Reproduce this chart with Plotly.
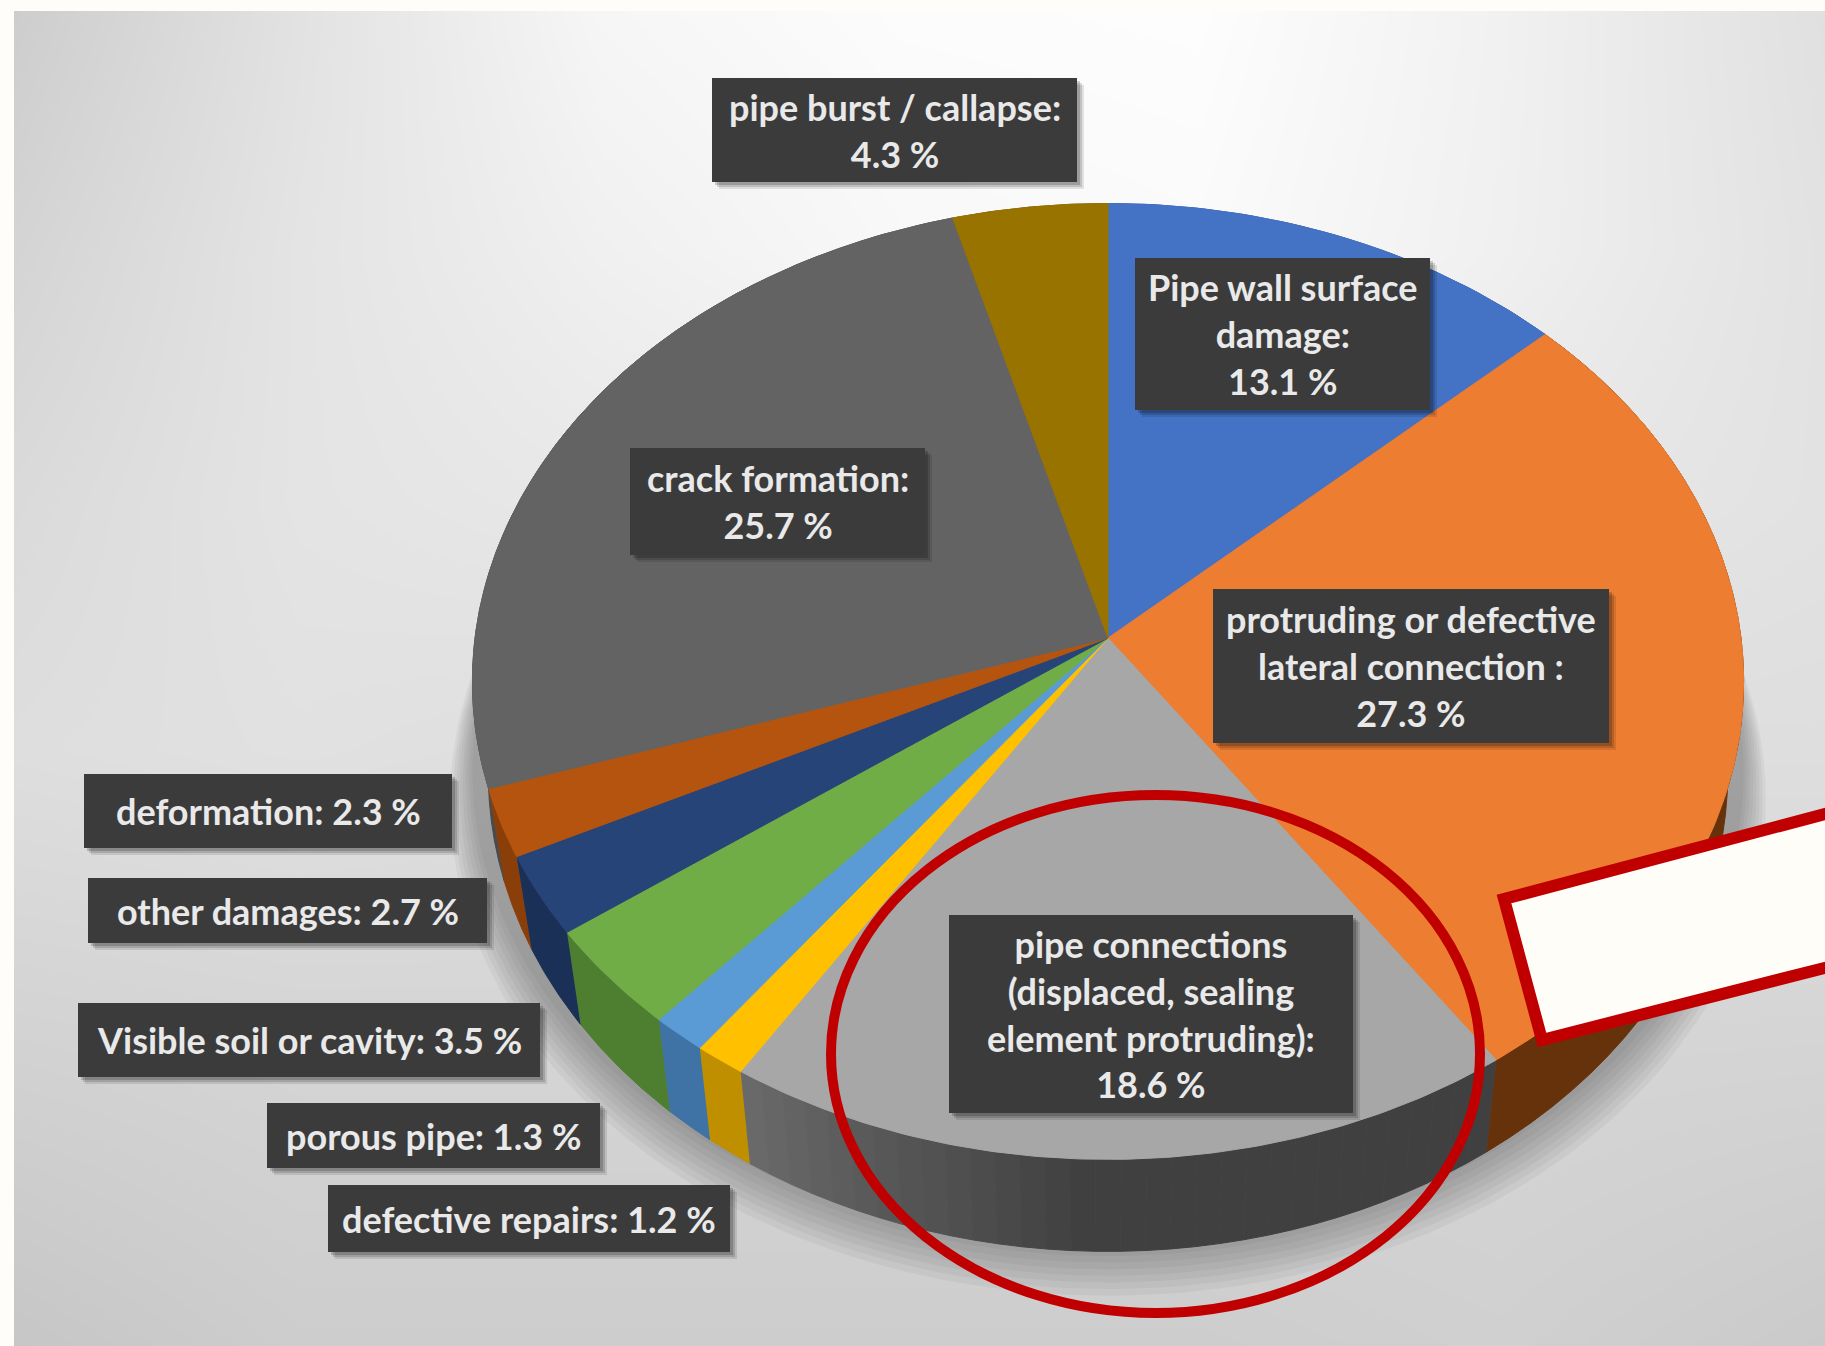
import numpy as np
import plotly.graph_objects as go

# Damage categories, clockwise from twelve o'clock
categories = [
    "Pipe wall surface damage", "protruding or defective lateral connection ",
    "pipe connections (displaced, sealing element protruding)", "defective repairs",
    "porous pipe", "Visible soil or cavity", "other damages", "deformation",
    "crack formation", "pipe burst / callapse",
]
shares = [13.1, 27.3, 18.6, 1.2, 1.3, 3.5, 2.7, 2.3, 25.7, 4.3]
top_colors = ["#4472c4", "#ed7d31", "#a7a7a7", "#ffc000", "#5b9bd5",
              "#70ad47", "#264478", "#b5540f", "#636363", "#997300"]
wall_colors = ["#2f5597", "#66320c", "#404040", "#bf8f00", "#3f72a5",
               "#4e7f31", "#1a3056", "#8a3f0a", "#4a4a4a", "#6f5400"]

# Text of each call-out, broken into lines
label_text = [
    "Pipe wall surface<br>damage:<br>13.1 %",
    "protruding or defective<br>lateral connection :<br>27.3 %",
    "pipe connections<br>(displaced, sealing<br>element protruding):<br>18.6 %",
    "defective repairs: 1.2 %",
    "porous pipe: 1.3 %",
    "Visible soil or cavity: 3.5 %",
    "other damages: 2.7 %",
    "deformation: 2.3 %",
    "crack formation:<br>25.7 %",
    "pipe burst / callapse:<br>4.3 %",
]
# Call-out boxes in page pixels: left, top, right, bottom
label_boxes = [
    (1135, 258, 1430, 410), (1213, 589, 1609, 743), (949, 915, 1353, 1113),
    (328, 1185, 730, 1252), (267, 1103, 600, 1168), (78, 1003, 540, 1077),
    (88, 878, 487, 943), (84, 774, 452, 848), (630, 448, 925, 555),
    (712, 78, 1077, 182),
]

# Backdrop gray levels on a coarse grid
bg_x = [14, 300, 600, 900, 1200, 1500, 1825]
bg_y = [11, 250, 500, 750, 1000, 1346]
bg_gray = [
    [205, 226, 246, 252, 253, 241, 224],
    [212, 228, 240, 248, 250, 240, 226],
    [218, 228, 232, 235, 235, 232, 226],
    [222, 225, 222, 222, 222, 222, 222],
    [212, 214, 214, 214, 214, 214, 214],
    [198, 205, 205, 205, 205, 208, 202],
]

# Pie geometry: a flat disc seen in perspective
CX, CY = 1108, 638
RX, RY, PERSP = 633, 474, 0.0909
DEPTH = 92
BASE_SHRINK = 0.975


def rim(frac, scale=1.0, dy=0.0):
    """Project a clockwise fraction of the circle onto the page."""
    ang = 2 * np.pi * np.asarray(frac)
    u, v = np.sin(ang), -np.cos(ang)
    d = 1 - PERSP * v
    return CX + scale * RX * u / d, CY + scale * RY * v / d + dy


def poly(xs, ys, color, name):
    return go.Scatter(
        x=xs, y=ys, mode="lines", fill="toself", fillcolor=color, name=name,
        line=dict(color=color, width=1), hoverinfo="name", showlegend=False,
    )


def wall(f0, f1, color, name):
    t = np.linspace(f0, f1, 40)
    x, y = rim(t)
    xb = CX + (x - CX) * BASE_SHRINK
    yb = y + DEPTH
    return poly(np.r_[x, xb[::-1]], np.r_[y, yb[::-1]], color, name)


def mix(c0, c1, w):
    a = [int(c0[i:i + 2], 16) for i in (1, 3, 5)]
    b = [int(c1[i:i + 2], 16) for i in (1, 3, 5)]
    return "#%02x%02x%02x" % tuple(round(p + (q - p) * w) for p, q in zip(a, b))


fig = go.Figure()
fig.add_trace(go.Heatmap(
    x=bg_x, y=bg_y, z=bg_gray, zsmooth="best", zmin=0, zmax=255, showscale=False,
    colorscale=[[0, "#000000"], [1, "#ffffff"]], hoverinfo="skip",
))

# Soft cast shadow under the disc
t_full = np.linspace(0, 1, 241)
for k in range(8):
    sx, sy = rim(t_full, scale=1.035 - 0.005 * k, dy=118 - 4 * k)
    fig.add_trace(go.Scatter(
        x=sx, y=sy, mode="lines", fill="toself", line=dict(width=0),
        fillcolor="rgba(70,70,70,0.06)", hoverinfo="skip", showlegend=False,
    ))

# Side walls, then the top faces over them
edges = np.r_[0, np.cumsum(shares)] / 100
for i, name in enumerate(categories):
    f0, f1 = edges[i], edges[i + 1]
    if i == 2:
        # This long wall lightens toward its left-hand end
        steps = np.linspace(f1, f0, 33)
        for j in range(32):
            w = max(0.0, 1 - j / 14)
            fig.add_trace(wall(steps[j + 1], steps[j], mix("#404040", "#696969", w), name))
    else:
        fig.add_trace(wall(f0, f1, wall_colors[i], name))

for i, name in enumerate(categories):
    t = np.linspace(edges[i], edges[i + 1], max(12, int(shares[i] * 6)))
    x, y = rim(t)
    fig.add_trace(poly(np.r_[CX, x, CX], np.r_[CY, y, CY], top_colors[i], name))

shapes = [
    # Paper strips along the left and top edges
    dict(type="rect", x0=0, x1=14, y0=0, y1=1346, fillcolor="#fefdf9", line_width=0),
    dict(type="rect", x0=0, x1=1825, y0=0, y1=11, fillcolor="#fefdf9", line_width=0),
]
annotations = []
for text, (l, t, r, b) in zip(label_text, label_boxes):
    for off, alpha in ((7, 0.10), (5, 0.14), (3, 0.18)):
        shapes.append(dict(type="rect", x0=l + off, x1=r + off, y0=t + off, y1=b + off,
                           fillcolor=f"rgba(0,0,0,{alpha})", line_width=0))
    shapes.append(dict(type="rect", x0=l, x1=r, y0=t, y1=b, fillcolor="#3b3b3b", line_width=0))
    annotations.append(dict(
        x=(l + r) / 2, y=(t + b) / 2, text=text, showarrow=False,
        xanchor="center", yanchor="middle", align="center",
        font=dict(family="Lato", size=36, color="#e9e9e9", weight="bold"),
    ))

# Highlight ring and the blank red-edged tag
shapes.append(dict(type="circle", x0=831, x1=1480, y0=795, y1=1313,
                   line=dict(color="#c00000", width=10), fillcolor="rgba(0,0,0,0)"))
shapes.append(dict(type="path", path="M 1504 899 L 1542 1040 L 1840 964 L 1840 810 Z",
                   fillcolor="#fffdf8", line=dict(color="#c00000", width=12)))

fig.update_layout(
    width=1825, height=1346, margin=dict(l=0, r=0, t=0, b=0),
    paper_bgcolor="#fefdf9", plot_bgcolor="#fefdf9",
    xaxis=dict(range=[0, 1825], visible=False, fixedrange=True),
    yaxis=dict(range=[1346, 0], visible=False, fixedrange=True),
    shapes=shapes, annotations=annotations,
)
fig.write_html("out.html", config=dict(displayModeBar=False))
